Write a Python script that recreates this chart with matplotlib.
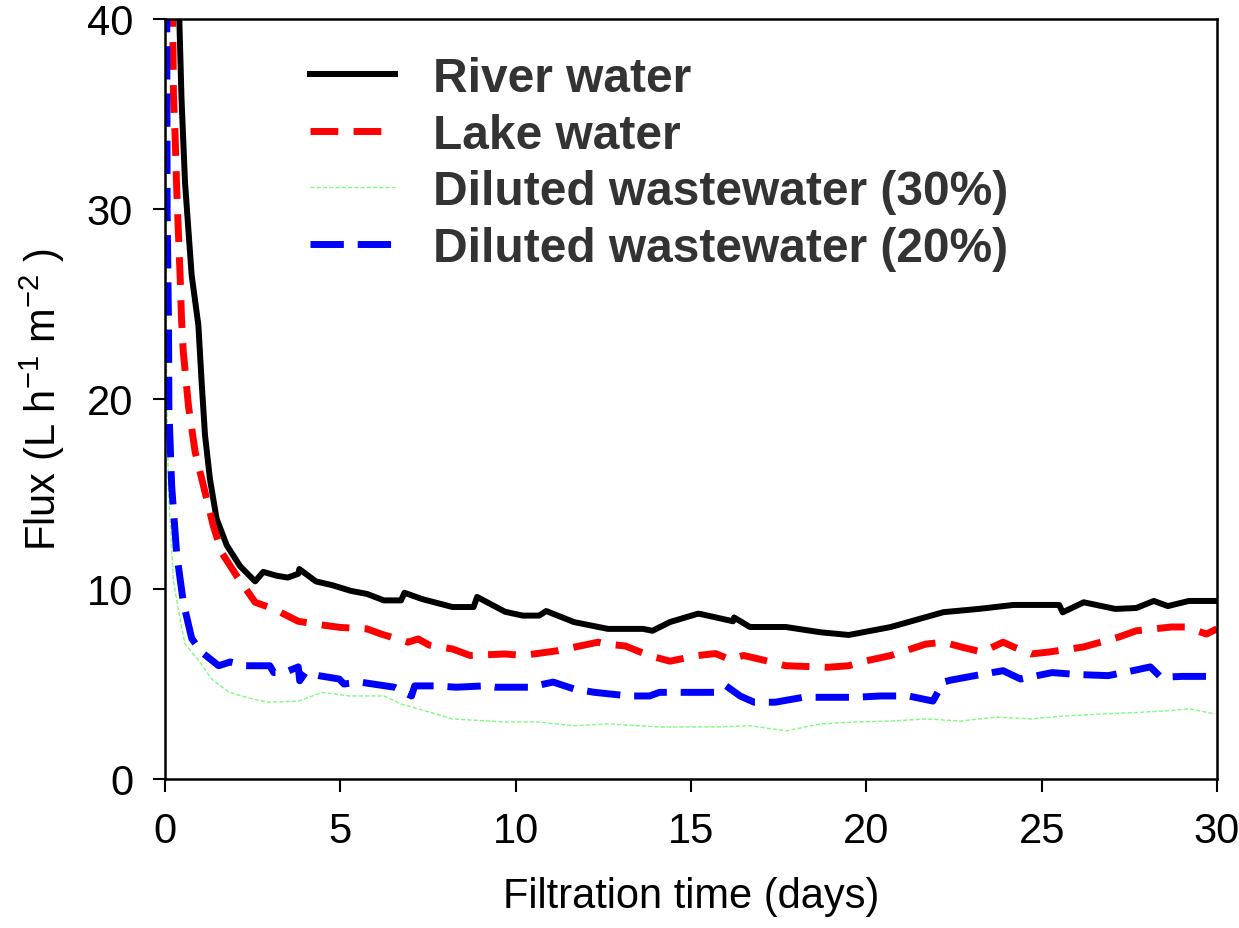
import matplotlib
matplotlib.use("Agg")
import matplotlib.pyplot as plt

plt.rcParams["font.family"] = ["Liberation Sans", "DejaVu Sans"]

# River water
river_t = [0.37, 0.41, 0.47, 0.57, 0.67, 0.76, 0.95, 1.05, 1.14, 1.28, 1.47, 1.76, 2.14, 2.57,
           2.8, 3.18, 3.5, 3.8, 3.83, 4.3, 4.77, 5.3, 5.76, 6.24, 6.73, 6.83, 7.33, 8.2,
           8.8, 8.9, 9.7, 10.2, 10.67, 10.87, 11.66, 12.63, 13.63, 13.9, 14.4, 15.2, 15.28,
           16.2, 16.23, 16.68, 17.7, 18.7, 19.5, 20.7, 22.2, 23.2, 24.2, 25.5, 25.6, 26.2,
           27.1, 27.7, 28.2, 28.6, 29.2, 30.0]
river_y = [42.0, 39.8, 35.8, 31.4, 28.8, 26.5, 23.9, 20.7, 18.1, 15.8, 13.7, 12.3, 11.2, 10.4,
           10.9, 10.7, 10.6, 10.8, 11.05, 10.4, 10.2, 9.9, 9.74, 9.4, 9.4, 9.8, 9.47, 9.05,
           9.05, 9.58, 8.8, 8.6, 8.6, 8.84, 8.26, 7.9, 7.9, 7.8, 8.26, 8.7, 8.68,
           8.3, 8.5, 8.0, 8.0, 7.72, 7.58, 8.0, 8.78, 8.95, 9.16, 9.16, 8.77, 9.3,
           8.95, 9.0, 9.37, 9.1, 9.37, 9.37]

# Lake water
lake_t = [0.2, 0.22, 0.24, 0.29, 0.33, 0.38, 0.43, 0.47, 0.52, 0.67, 0.86, 1.14, 1.38, 1.62,
          2.04, 2.57, 3.1, 3.8, 4.5, 4.98, 5.76, 6.16, 6.93, 7.22, 7.53, 8.2, 8.7, 9.7,
          10.2, 11.16, 12.35, 12.6, 13.13, 13.8, 14.4, 15.2, 15.7, 16.1, 16.5, 17.2, 17.7,
          18.9, 19.5, 19.95, 20.7, 21.7, 22.2, 22.7, 23.3, 23.9, 24.2, 24.7, 25.2, 26.2,
          27.2, 27.7, 28.7, 29.1, 29.7, 30.0]
lake_y = [42.0, 39.8, 36.0, 33.7, 31.2, 28.8, 26.5, 24.2, 22.5, 19.6, 17.2, 15.1, 13.3, 11.9,
          10.7, 9.3, 8.95, 8.3, 8.1, 7.98, 7.9, 7.63, 7.2, 7.37, 7.05, 6.84, 6.5, 6.58,
          6.5, 6.74, 7.2, 7.1, 7.0, 6.5, 6.2, 6.5, 6.6, 6.3, 6.5, 6.2, 5.96,
          5.88, 5.96, 6.2, 6.5, 7.1, 7.2, 6.95, 6.68, 7.2, 6.95, 6.58, 6.68, 6.95,
          7.47, 7.8, 8.0, 8.0, 7.63, 7.9]

# Diluted wastewater (30%)
ww30_t = [0.0, 0.02, 0.05, 0.1, 0.24, 0.43, 0.57, 0.94, 1.33, 1.83, 2.31, 2.9, 3.8, 4.48,
          5.26, 6.25, 6.73, 7.73, 8.2, 9.7, 10.66, 11.66, 12.63, 14.1, 15.2, 15.7, 16.7,
          17.7, 18.7, 19.7, 20.7, 21.7, 22.7, 23.7, 24.7, 25.7, 26.7, 27.7, 28.7, 29.2,
          29.95]
ww30_y = [40.0, 30.0, 20.0, 15.0, 10.4, 8.4, 7.1, 6.3, 5.26, 4.56, 4.3, 4.04, 4.1, 4.56,
          4.37, 4.37, 3.95, 3.42, 3.16, 3.0, 3.0, 2.8, 2.9, 2.74, 2.74, 2.74, 2.8,
          2.53, 2.9, 3.0, 3.05, 3.16, 3.05, 3.26, 3.16, 3.32, 3.42, 3.5, 3.6, 3.7,
          3.42]

# Diluted wastewater (20%)
ww20_t = [0.05, 0.05, 0.06, 0.1, 0.11, 0.19, 0.33, 0.52, 0.76, 1.04, 1.53, 1.86, 2.31, 2.99,
          3.1, 3.4, 3.8, 3.84, 4.0, 4.38, 4.97, 5.1, 5.56, 6.54, 7.03, 7.12, 7.73, 8.3,
          9.1, 9.4, 10.38, 11.07, 11.66, 12.25, 13.23, 13.82, 14.1, 14.9, 15.68, 16.0,
          16.4, 16.8, 17.4, 18.2, 19.0, 19.7, 20.4, 21.2, 21.9, 22.2, 22.4, 23.1, 23.9,
          24.4, 25.3, 26.0, 26.9, 27.6, 28.1, 28.4, 29.0, 30.0]
ww20_y = [42.0, 39.8, 30.0, 23.8, 19.5, 15.4, 11.9, 9.3, 7.4, 6.68, 5.96, 6.16, 5.96, 5.96,
          5.6, 5.6, 5.9, 5.17, 5.6, 5.44, 5.26, 5.0, 5.1, 4.83, 4.37, 4.9, 4.9, 4.83,
          4.9, 4.83, 4.83, 5.1, 4.74, 4.56, 4.37, 4.37, 4.56, 4.56, 4.56, 4.9,
          4.37, 4.04, 4.04, 4.3, 4.3, 4.3, 4.37, 4.37, 4.1, 5.1, 5.2, 5.44, 5.7,
          5.26, 5.6, 5.5, 5.44, 5.7, 5.9, 5.35, 5.4, 5.4]

labels = ["River water", "Lake water", "Diluted wastewater (30%)", "Diluted wastewater (20%)"]
x_ticks = [0, 5, 10, 15, 20, 25, 30]
y_ticks = [0, 10, 20, 30, 40]

fig = plt.figure(figsize=(12.39, 9.29), dpi=100)
ax = fig.add_axes([0.1332, 0.1604, 0.8490, 0.8181])

ax.plot(river_t, river_y, color="black", lw=4.3, solid_joinstyle="round", label=labels[0])
ax.plot(lake_t, lake_y, color="#ff0000", lw=5.0, ls=(0, (4.0, 2.2)), label=labels[1])
ax.plot(ww30_t, ww30_y, color="#7cfc7c", lw=1.0, ls=(0, (3, 1.5)), label=labels[2])
ax.plot(ww20_t, ww20_y, color="#0000ff", lw=5.0, ls=(0, (4.8, 2.0)), label=labels[3])

ax.set_xlim(0, 30)
ax.set_ylim(0, 40)
ax.set_xticks(x_ticks)
ax.set_yticks(y_ticks)
ax.tick_params(direction="out", length=9, width=1.5, labelsize=30, pad=14)
for sp in ax.spines.values():
    sp.set_linewidth(1.8)

ax.set_xlabel("Filtration time (days)", fontsize=30, labelpad=18)
ax.set_ylabel(r"Flux (L h$^{\mathregular{-1}}$ m$^{\mathregular{-2}}$ )", fontsize=30, labelpad=14)

leg = ax.legend(loc="upper left", bbox_to_anchor=(0.097, 1.008), frameon=False,
                handlelength=1.77, handletextpad=0.79, labelspacing=0.24,
                prop={"weight": "bold", "size": 34.5})
for txt in leg.get_texts():
    txt.set_color("#333333")

fig.savefig("out.png", dpi=100)
